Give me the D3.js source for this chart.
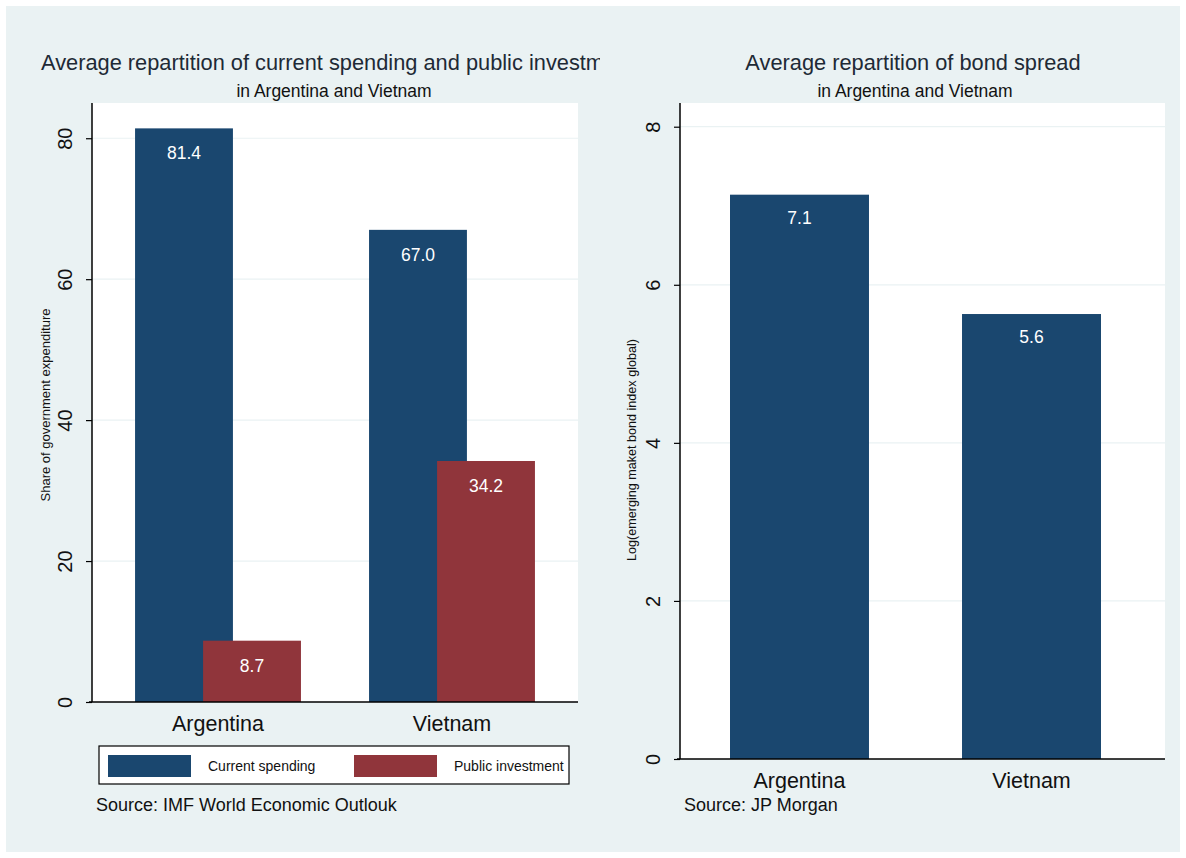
<!DOCTYPE html>
<html>
<head>
<meta charset="utf-8">
<script src="https://cdn.jsdelivr.net/npm/d3@7"></script>
<style>
  body { margin: 0; background: #fff; }
  text { font-family: "Liberation Sans", Arial, sans-serif; }
</style>
</head>
<body>
<svg width="1186" height="858"></svg>
<script>
// data
var categories = ['Argentina', 'Vietnam'];
var currentSpending = [81.4, 67.0];
var publicInvestment = [8.7, 34.2];
var bondSpread = [7.14, 5.63];
var bondLabels = ['7.1', '5.6'];
var leftTicks = [0, 20, 40, 60, 80];
var rightTicks = [0, 2, 4, 6, 8];

var navy = '#1a476f';
var maroon = '#90353b';
var bg = '#eaf2f3';

var svg = d3.select('svg');

// outer background
svg.append('rect')
  .attr('x', 6).attr('y', 6)
  .attr('width', 1174).attr('height', 846)
  .attr('fill', bg);

// y axis with vertical tick labels + light grid
function drawYAxis(g, yScale, ticks, x0, x1) {
  g.selectAll('.grid').data(ticks.filter(d => d > 0)).enter()
    .append('line')
    .attr('x1', x0).attr('x2', x1)
    .attr('y1', d => yScale(d)).attr('y2', d => yScale(d))
    .attr('stroke', bg).attr('stroke-width', 1.2);

  var axis = g.append('g')
    .attr('transform', 'translate(' + [x0, 0] + ')')
    .call(d3.axisLeft(yScale).tickValues(ticks).tickSize(6));
  axis.select('.domain').remove();
  axis.selectAll('.tick line').attr('stroke', '#000').attr('stroke-width', 1.2);
  axis.selectAll('.tick text')
    .attr('font-size', 20)
    .attr('fill', '#111')
    .attr('text-anchor', 'middle')
    .attr('x', 0).attr('y', -20).attr('dy', 0)
    .attr('transform', 'rotate(-90)');
}

// ---------- left panel ----------
svg.append('clipPath').attr('id', 'clipL')
  .append('rect').attr('x', 0).attr('y', 0).attr('width', 600).attr('height', 858);
var left = svg.append('g').attr('clip-path', 'url(#clipL)');

var lm = {left: 92, right: 578, top: 103, bottom: 702};

left.append('rect')
  .attr('x', lm.left).attr('y', lm.top)
  .attr('width', lm.right - lm.left).attr('height', lm.bottom - lm.top)
  .attr('fill', '#fff');

var xL = d3.scaleBand()
  .domain(categories)
  .range([lm.left, lm.right])
  .paddingInner(0.291)
  .paddingOuter(0.184);

var yL = d3.scaleLinear()
  .domain([0, 85])
  .range([lm.bottom, lm.top]);

drawYAxis(left, yL, leftTicks, lm.left, lm.right);

var bwL = xL.bandwidth();
var subW = bwL * 0.59;
var redOff = bwL * 0.41;

left.selectAll('.cur').data(currentSpending).enter()
  .append('rect')
  .attr('x', (d, i) => xL(categories[i]))
  .attr('y', d => yL(d))
  .attr('width', subW)
  .attr('height', d => yL(0) - yL(d))
  .attr('fill', navy);

left.selectAll('.pub').data(publicInvestment).enter()
  .append('rect')
  .attr('x', (d, i) => xL(categories[i]) + redOff)
  .attr('y', d => yL(d))
  .attr('width', subW)
  .attr('height', d => yL(0) - yL(d))
  .attr('fill', maroon);

left.selectAll('.curLab').data(currentSpending).enter()
  .append('text')
  .attr('x', (d, i) => xL(categories[i]) + subW / 2)
  .attr('y', d => yL(d) + 31)
  .attr('text-anchor', 'middle')
  .attr('font-size', 17.5).attr('fill', '#fff')
  .text(d => d.toFixed(1));

left.selectAll('.pubLab').data(publicInvestment).enter()
  .append('text')
  .attr('x', (d, i) => xL(categories[i]) + redOff + subW / 2)
  .attr('y', d => yL(d) + 31)
  .attr('text-anchor', 'middle')
  .attr('font-size', 17.5).attr('fill', '#fff')
  .text(d => d.toFixed(1));

left.append('line')
  .attr('x1', lm.left - 3).attr('x2', lm.right)
  .attr('y1', lm.bottom).attr('y2', lm.bottom)
  .attr('stroke', '#000').attr('stroke-width', 1.5);
left.append('line')
  .attr('x1', lm.left).attr('x2', lm.left)
  .attr('y1', lm.top).attr('y2', lm.bottom)
  .attr('stroke', '#000').attr('stroke-width', 1.5);

left.selectAll('.cat').data(categories).enter()
  .append('text')
  .attr('x', d => xL(d) + bwL / 2)
  .attr('y', 731)
  .attr('text-anchor', 'middle')
  .attr('font-size', 21.5).attr('fill', '#111')
  .text(d => d);

left.append('text')
  .attr('transform', 'translate(50,405) rotate(-90)')
  .attr('text-anchor', 'middle')
  .attr('font-size', 13).attr('fill', '#111')
  .text('Share of government expenditure');

left.append('text')
  .attr('x', 41).attr('y', 70)
  .attr('font-size', 21.8).attr('fill', '#1e2a36')
  .text('Average repartition of current spending and public investment');
left.append('text')
  .attr('x', 334).attr('y', 97)
  .attr('text-anchor', 'middle')
  .attr('font-size', 17.5).attr('fill', '#111')
  .text('in Argentina and Vietnam');

// legend
var legBox = {x: 99, y: 746, w: 470, h: 38};
svg.append('clipPath').attr('id', 'clipLeg')
  .append('rect').attr('x', legBox.x).attr('y', legBox.y)
  .attr('width', legBox.w).attr('height', legBox.h);
left.append('rect')
  .attr('x', legBox.x).attr('y', legBox.y).attr('width', legBox.w).attr('height', legBox.h)
  .attr('fill', '#fff');
var legItems = [{name: 'Current spending', color: navy, x: 108},
                {name: 'Public investment', color: maroon, x: 354}];
var legG = left.append('g').attr('clip-path', 'url(#clipLeg)');
legItems.forEach(it => {
  legG.append('rect')
    .attr('x', it.x).attr('y', 755).attr('width', 83).attr('height', 22)
    .attr('fill', it.color);
  legG.append('text')
    .attr('x', it.x + 100).attr('y', 771)
    .attr('font-size', 14).attr('fill', '#111')
    .text(it.name);
});
left.append('rect')
  .attr('x', legBox.x).attr('y', legBox.y).attr('width', legBox.w).attr('height', legBox.h)
  .attr('fill', 'none').attr('stroke', '#000').attr('stroke-width', 1.2);

left.append('text')
  .attr('x', 96).attr('y', 811)
  .attr('font-size', 18).attr('fill', '#111')
  .text('Source: IMF World Economic Outlouk');

// ---------- right panel ----------
var right = svg.append('g');
var rm = {left: 680, right: 1165, top: 103, bottom: 759};

right.append('rect')
  .attr('x', rm.left).attr('y', rm.top)
  .attr('width', rm.right - rm.left).attr('height', rm.bottom - rm.top)
  .attr('fill', '#fff');

var xR = d3.scaleBand()
  .domain(categories)
  .range([rm.left, 1151])
  .paddingInner(0.401)
  .paddingOuter(0.2155);

var yR = d3.scaleLinear()
  .domain([0, 8.3])
  .range([rm.bottom, rm.top]);

drawYAxis(right, yR, rightTicks, rm.left, rm.right);

right.selectAll('.bond').data(bondSpread).enter()
  .append('rect')
  .attr('x', (d, i) => xR(categories[i]))
  .attr('y', d => yR(d))
  .attr('width', xR.bandwidth())
  .attr('height', d => yR(0) - yR(d))
  .attr('fill', navy);

right.selectAll('.bondLab').data(bondSpread).enter()
  .append('text')
  .attr('x', (d, i) => xR(categories[i]) + xR.bandwidth() / 2)
  .attr('y', d => yR(d) + 29)
  .attr('text-anchor', 'middle')
  .attr('font-size', 17.5).attr('fill', '#fff')
  .text((d, i) => bondLabels[i]);

right.append('line')
  .attr('x1', rm.left - 3).attr('x2', rm.right)
  .attr('y1', rm.bottom).attr('y2', rm.bottom)
  .attr('stroke', '#000').attr('stroke-width', 1.5);
right.append('line')
  .attr('x1', rm.left).attr('x2', rm.left)
  .attr('y1', rm.top).attr('y2', rm.bottom)
  .attr('stroke', '#000').attr('stroke-width', 1.5);

right.selectAll('.cat').data(categories).enter()
  .append('text')
  .attr('x', d => xR(d) + xR.bandwidth() / 2)
  .attr('y', 788)
  .attr('text-anchor', 'middle')
  .attr('font-size', 21.5).attr('fill', '#111')
  .text(d => d);

right.append('text')
  .attr('transform', 'translate(636,450) rotate(-90)')
  .attr('text-anchor', 'middle')
  .attr('font-size', 12.6).attr('fill', '#111')
  .text('Log(emerging maket bond index global)');

right.append('text')
  .attr('x', 913).attr('y', 70)
  .attr('text-anchor', 'middle')
  .attr('font-size', 21.8).attr('fill', '#1e2a36')
  .text('Average repartition of bond spread');
right.append('text')
  .attr('x', 915).attr('y', 97)
  .attr('text-anchor', 'middle')
  .attr('font-size', 17.5).attr('fill', '#111')
  .text('in Argentina and Vietnam');

right.append('text')
  .attr('x', 684).attr('y', 811)
  .attr('font-size', 18).attr('fill', '#111')
  .text('Source: JP Morgan');
</script>
</body>
</html>
